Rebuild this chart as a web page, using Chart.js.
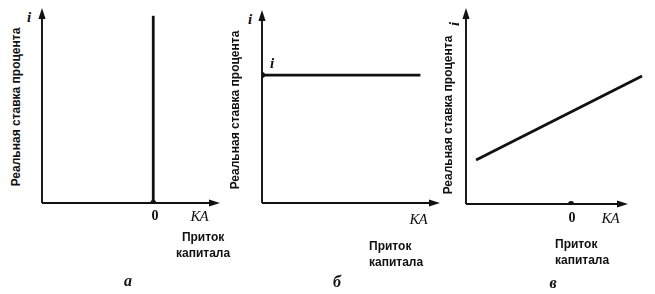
<!DOCTYPE html>
<html lang="ru">
<head>
  <meta charset="UTF-8" />
  <title>Приток капитала и реальная ставка процента</title>
  <style>
    body { margin: 0; background: #fff; }
    #wrap { position: relative; width: 655px; height: 294px; background: #fff; overflow: hidden; }
    canvas { position: absolute; top: 0; }
    .t { position: absolute; color: #111; white-space: nowrap; transform: translate(-50%, -50%); line-height: 1; }
    .sym { font: italic bold 15px "Liberation Serif", serif; }
    .zero { font: bold 14px "Liberation Serif", serif; }
    .ka { font: italic 15px "Liberation Serif", serif; letter-spacing: -1px; }
    .cap { font: bold 12px "Liberation Sans", Arial, sans-serif; line-height: 16px; transform: none; }
    .ylab { font: bold 12px "Liberation Sans", Arial, sans-serif; transform: translate(-50%, -50%) rotate(-90deg); }
    .panel { font: italic bold 16px "Liberation Serif", serif; }
  </style>
  <script src="https://cdn.jsdelivr.net/npm/chart.js"></script>
</head>
<body>
<div id="wrap">
  <canvas id="chart-a" width="190" height="215" style="left:36px"></canvas>
  <canvas id="chart-b" width="190" height="215" style="left:256px"></canvas>
  <canvas id="chart-c" width="190" height="215" style="left:460px"></canvas>

  <!-- panel a -->
  <div class="t sym" style="left:29px;top:17px">i</div>
  <div class="t ylab" style="left:16px;top:107px">Реальная ставка процента</div>
  <div class="t zero" style="left:155px;top:216px">0</div>
  <div class="t ka" style="left:199px;top:216px">KA</div>
  <div class="t cap" style="left:176px;top:229px;text-align:center">Приток<br>капитала</div>
  <div class="t panel" style="left:128px;top:281px">а</div>

  <!-- panel b -->
  <div class="t sym" style="left:250px;top:19px">i</div>
  <div class="t sym" style="left:272px;top:63px">i</div>
  <div class="t ylab" style="left:235px;top:110px">Реальная ставка процента</div>
  <div class="t ka" style="left:418px;top:219px">KA</div>
  <div class="t cap" style="left:369px;top:238px">Приток<br>капитала</div>
  <div class="t panel" style="left:337px;top:282px">б</div>

  <!-- panel c -->
  <div class="t sym" style="left:454px;top:24px;transform:translate(-50%,-50%) rotate(-90deg)">i</div>
  <div class="t ylab" style="left:448px;top:115px">Реальная ставка процента</div>
  <div class="t zero" style="left:572px;top:218px">0</div>
  <div class="t ka" style="left:610px;top:218px">KA</div>
  <div class="t cap" style="left:555px;top:236px">Приток<br>капитала</div>
  <div class="t panel" style="left:553px;top:283px">в</div>
</div>

<script>
  // а: capital inflow independent of the rate (vertical line at KA = 0)
  const aLineX = [0, 0];
  const aLineY = [0, 9.6];
  const aDotX = [0];
  const aDotY = [0];

  // б: perfect capital mobility (horizontal line at world rate i)
  const bLineX = [0, 8.9];
  const bLineY = [6.63, 6.63];
  const bDotX = [0];
  const bDotY = [6.63];

  // в: imperfect mobility (upward sloping line)
  const cLineX = [-4.52, 3.38];
  const cLineY = [2.24, 6.53];
  const cDotX = [0];
  const cDotY = [0];

  const ink = '#111';

  function pts(xs, ys) {
    return xs.map((x, i) => ({ x: x, y: ys[i] }));
  }

  function arrow(ctx, x, y, dir) {
    const len = 11, half = 3.6;
    ctx.beginPath();
    if (dir === 'up') {
      ctx.moveTo(x, y);
      ctx.lineTo(x - half, y + len);
      ctx.lineTo(x + half, y + len);
    } else {
      ctx.moveTo(x, y);
      ctx.lineTo(x - len, y - half);
      ctx.lineTo(x - len, y + half);
    }
    ctx.closePath();
    ctx.fill();
  }

  // draws the two axes with arrowheads, on the scales' origin
  const axesPlugin = {
    id: 'axes',
    beforeDatasetsDraw(chart, args, opts) {
      const { ctx, chartArea, scales } = chart;
      const x0 = chartArea.left;
      const y0 = scales.y.getPixelForValue(0);
      const xEnd = opts.xEnd !== undefined ? scales.x.getPixelForValue(opts.xEnd) : chartArea.right;
      ctx.save();
      ctx.strokeStyle = ink;
      ctx.fillStyle = ink;
      ctx.lineWidth = 1.9;
      ctx.beginPath();
      ctx.moveTo(x0, y0);
      ctx.lineTo(x0, chartArea.top + 6);
      ctx.moveTo(x0, y0);
      ctx.lineTo(xEnd - 6, y0);
      ctx.stroke();
      arrow(ctx, x0, chartArea.top, 'up');
      arrow(ctx, xEnd, y0, 'right');
      ctx.restore();
    }
  };

  function makeChart(id, line, dot, xRange, pad, xEnd) {
    return new Chart(document.getElementById(id), {
      type: 'scatter',
      data: {
        datasets: [
          { data: line, showLine: true, borderColor: ink, borderWidth: 2.8, pointRadius: 0, borderCapStyle: 'butt' },
          { data: dot, pointRadius: 3, pointBackgroundColor: ink, pointBorderWidth: 0 }
        ]
      },
      options: {
        responsive: false,
        animation: false,
        layout: { padding: pad },
        scales: {
          x: { type: 'linear', min: xRange[0], max: xRange[1], display: false },
          y: { type: 'linear', min: 0, max: 10, display: false }
        },
        plugins: {
          legend: { display: false },
          tooltip: { enabled: false },
          axes: { xEnd: xEnd }
        }
      },
      plugins: [axesPlugin]
    });
  }

  makeChart('chart-a', pts(aLineX, aLineY), pts(aDotX, aDotY), [-2, 1.2],
    { left: 6, right: 6, top: 8, bottom: 12 });
  makeChart('chart-b', pts(bLineX, bLineY), pts(bDotX, bDotY), [0, 10],
    { left: 6, right: 6, top: 10, bottom: 12 });
  makeChart('chart-c', pts(cLineX, cLineY), pts(cDotX, cDotY), [-5, 3.52],
    { left: 6, right: 5, top: 8, bottom: 11 }, 2.71);
</script>
</body>
</html>
